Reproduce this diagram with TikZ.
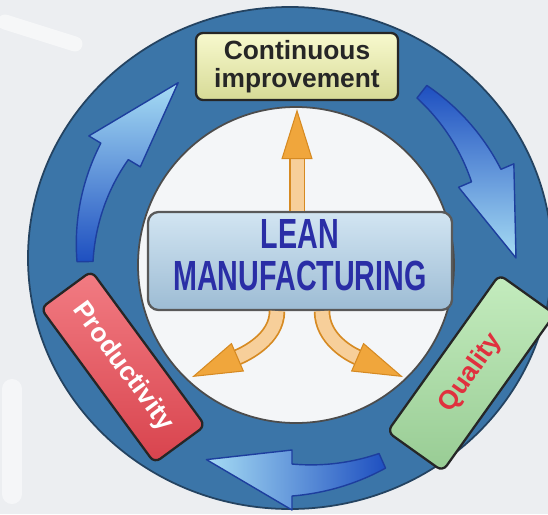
\documentclass[tikz,border=0pt]{standalone}
\usepackage{fontspec}
\setsansfont{Liberation Sans}
\usepackage{tikz}
\usetikzlibrary{arrows.meta,positioning,calc}
\definecolor{bgpaper}{HTML}{ECEEF1}
\definecolor{ringblue}{HTML}{3B75A8}
\definecolor{ringedge}{HTML}{244361}
\definecolor{innerw}{HTML}{F4F6F8}
\definecolor{arrowdk}{HTML}{1E4FC0}
\definecolor{arrowlt}{HTML}{A6DCF4}
\definecolor{arrowedge}{HTML}{1D3E9E}
\definecolor{ordark}{HTML}{D68A22}
\definecolor{ormid}{HTML}{F0A63C}
\definecolor{orlight}{HTML}{F7CF9A}
\definecolor{leantop}{HTML}{D2E5F2}
\definecolor{leanbot}{HTML}{9DBCD4}
\definecolor{leantext}{HTML}{2A2EA6}
\definecolor{citop}{HTML}{F8F9CE}
\definecolor{cibot}{HTML}{D6DA96}
\definecolor{prodtop}{HTML}{F27C83}
\definecolor{prodbot}{HTML}{D8434D}
\definecolor{qualtop}{HTML}{C4ECBE}
\definecolor{qualbot}{HTML}{98CC94}
\definecolor{qualtext}{HTML}{E0303E}
% curved arrow in the ring: [shading] start, head base, tip angle, radius, tip radius
\newcommand{\ringarrow}[6][]{%
  \draw[ringarr,#1] plot[domain=#2:#3,samples=25] (\x:{#5+8+8*(\x-(#2))/((#3)-(#2))})
    -- (#3:{#5+30}) -- (#4:#6) -- (#3:{#5-30})
    -- plot[domain=#3:#2,samples=25] (\x:{#5-8-8*(\x-(#2))/((#3)-(#2))}) -- cycle;}

\begin{document}
\begin{tikzpicture}[x=0.2mm,y=0.2mm,
  plate/.style={draw=black!85,line width=1.3pt,rounded corners=4pt,inner sep=0pt},
  ringarr/.style={draw=arrowedge,line width=0.8pt,line join=round},
  orarrow/.style={draw=ordark,double=orlight,double distance=2.6mm,line width=0.35mm,
    -{Triangle[length=10mm,width=6.2mm,fill=ormid,line width=0.6pt]}}]
\useasboundingbox (0,0) rectangle (548,514);
\clip (0,0) rectangle (548,514);
\fill[bgpaper] (0,0) rectangle (548,514);
\draw[white,opacity=.55,line width=3mm,line cap=round] (5,492) -- (75,470);
\draw[white,opacity=.5,line width=4mm,line cap=round] (12,125) -- (12,20);
% ring and white centre
\coordinate (ctr) at (292,256);
\draw[ringedge,fill=ringblue,line width=1pt] (290,256) ellipse [x radius=262,y radius=251];
\draw[black!70,fill=innerw,line width=1pt] (296,249) circle [radius=158];
% cycle arrows
\begin{scope}[shift={(ctr)}]
\ringarrow[bottom color=arrowdk,top color=arrowlt]{181}{149}{123}{207}{209}
\ringarrow[top color=arrowdk,bottom color=arrowlt]{52}{23}{0}{211}{224}
\ringarrow[right color=arrowdk,left color=arrowlt]{-66}{-90}{-113}{222}{219}
\end{scope}
% boxes
\node[plate,top color=prodtop,bottom color=prodbot,rotate=-53.7,minimum width=3.84cm,minimum height=1.26cm,text=white,
  font=\sffamily\bfseries\fontsize{15}{16}\selectfont] (prod) at (123,147) {Productivity};
\node[plate,top color=qualtop,bottom color=qualbot,rotate=54.5,minimum width=3.86cm,minimum height=1.36cm,text=qualtext,
  font=\sffamily\bfseries\fontsize{15}{16}\selectfont] (qual) at (471,141) {Quality};
\node[plate,top color=leantop,bottom color=leanbot,draw=black!65,rounded corners=6pt,minimum width=6.08cm,minimum height=1.96cm,text=leantext,
  font=\sffamily\bfseries\fontsize{24}{23}\selectfont]
  (lean) at (300,253) {\scalebox{0.68}[1]{\begin{tabular}{@{}c@{}}LEAN\\MANUFACTURING\end{tabular}}};
\node[plate,top color=citop,bottom color=cibot,minimum width=4.04cm,minimum height=1.34cm,text=black!85,align=center,
  font=\sffamily\bfseries\fontsize{15}{16}\selectfont] (ci) at (297,447.5) {Continuous\\improvement};
% orange arrows
\coordinate (leftTip) at (192,137);
\coordinate (rightTip) at (403,137);
\draw[orarrow] (lean.north -| ci.south) -- ([yshift=-1.6mm]ci.south);
\draw[orarrow] ([xshift=-4.6mm]lean.south) .. controls +(0,-28) and +(53,23) .. (leftTip);
\draw[orarrow] ([xshift=4.4mm]lean.south) .. controls +(0,-28) and +(-53,23) .. (rightTip);
\end{tikzpicture}
\end{document}
